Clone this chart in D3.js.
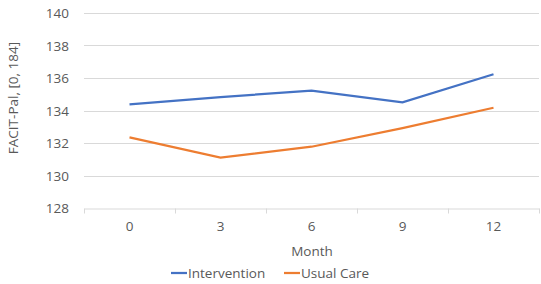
<!DOCTYPE html>
<html>
<head>
<meta charset="utf-8">
<script src="https://cdn.jsdelivr.net/npm/d3@7"></script>
<style>
  body { margin: 0; background: #fff; }
  text { font-family: "Open Sans", sans-serif; fill: #595959; }
</style>
</head>
<body>
<div id="chart"></div>
<script>
// data
var months = ["0", "3", "6", "9", "12"];
var intervention = [134.38, 134.83, 135.22, 134.5, 136.23];
var usualCare = [132.35, 131.1, 131.77, 132.92, 134.17];
var yTicks = [128, 130, 132, 134, 136, 138, 140];

var W = 541, H = 284;
var plotL = 84, plotR = 539, plotT = 13, plotB = 208;
var fs = 13.5;

var svg = d3.select("#chart").append("svg")
    .attr("width", W)
    .attr("height", H);

var x = d3.scaleBand()
    .domain(months)
    .range([plotL, plotR]);

var y = d3.scaleLinear()
    .domain([128, 140])
    .range([plotB, plotT]);

// gridlines
svg.selectAll("line.grid")
    .data(yTicks.slice(1))
    .enter()
    .append("line")
    .attr("class", "grid")
    .attr("x1", plotL).attr("x2", plotR)
    .attr("y1", function (d) { return Math.round(y(d)) + 0.5; })
    .attr("y2", function (d) { return Math.round(y(d)) + 0.5; })
    .attr("stroke", "#d9d9d9")
    .attr("stroke-width", 1);

// y labels
svg.selectAll("text.ytick")
    .data(yTicks)
    .enter()
    .append("text")
    .attr("class", "ytick")
    .attr("x", plotL - 15)
    .attr("y", function (d) { return y(d) + 5; })
    .attr("text-anchor", "end")
    .attr("font-size", fs)
    .text(function (d) { return d; });

// x axis
var xAxis = d3.axisBottom(x).tickSize(0).tickSizeOuter(0).tickPadding(13);
var gx = svg.append("g")
    .attr("transform", "translate(0," + (plotB + 0.5) + ")")
    .call(xAxis);
gx.select(".domain").attr("stroke", "#d9d9d9");
// category boundary ticks like Excel
gx.selectAll("line.bound")
    .data(d3.range(months.length + 1))
    .enter()
    .append("line")
    .attr("class", "bound")
    .attr("x1", function (i) { return Math.round(plotL + i * x.bandwidth()) + 0.5; })
    .attr("x2", function (i) { return Math.round(plotL + i * x.bandwidth()) + 0.5; })
    .attr("y1", 0).attr("y2", 5)
    .attr("stroke", "#d9d9d9");
gx.selectAll(".tick text")
    .attr("font-size", fs)
    .attr("fill", "#595959")
    .style("font-family", "'Open Sans', sans-serif");

// lines
var line = d3.line()
    .x(function (d, i) { return x(months[i]) + x.bandwidth() / 2; })
    .y(function (d) { return y(d); });

svg.append("path")
    .datum(intervention)
    .attr("d", line)
    .attr("fill", "none")
    .attr("stroke", "#4472C4")
    .attr("stroke-width", 2.25);

svg.append("path")
    .datum(usualCare)
    .attr("d", line)
    .attr("fill", "none")
    .attr("stroke", "#ED7D31")
    .attr("stroke-width", 2.25);

// axis titles
svg.append("text")
    .attr("x", 312)
    .attr("y", 256)
    .attr("text-anchor", "middle")
    .attr("font-size", fs)
    .text("Month");

svg.append("text")
    .attr("transform", "translate(18,98) rotate(-90)")
    .attr("text-anchor", "middle")
    .attr("font-size", fs)
    .text("FACIT-Pal, [0, 184]");

// legend
var legend = [["Intervention", "#4472C4", 171], ["Usual Care", "#ED7D31", 284]];
var lg = svg.selectAll("g.legend")
    .data(legend)
    .enter()
    .append("g")
    .attr("class", "legend")
    .attr("transform", function (d) { return "translate(" + d[2] + ",273)"; });
lg.append("line")
    .attr("x1", 0).attr("x2", 16)
    .attr("y1", 0).attr("y2", 0)
    .attr("stroke", function (d) { return d[1]; })
    .attr("stroke-width", 2.25);
lg.append("text")
    .attr("x", 17)
    .attr("y", 5)
    .attr("font-size", fs)
    .text(function (d) { return d[0]; });
</script>
</body>
</html>
